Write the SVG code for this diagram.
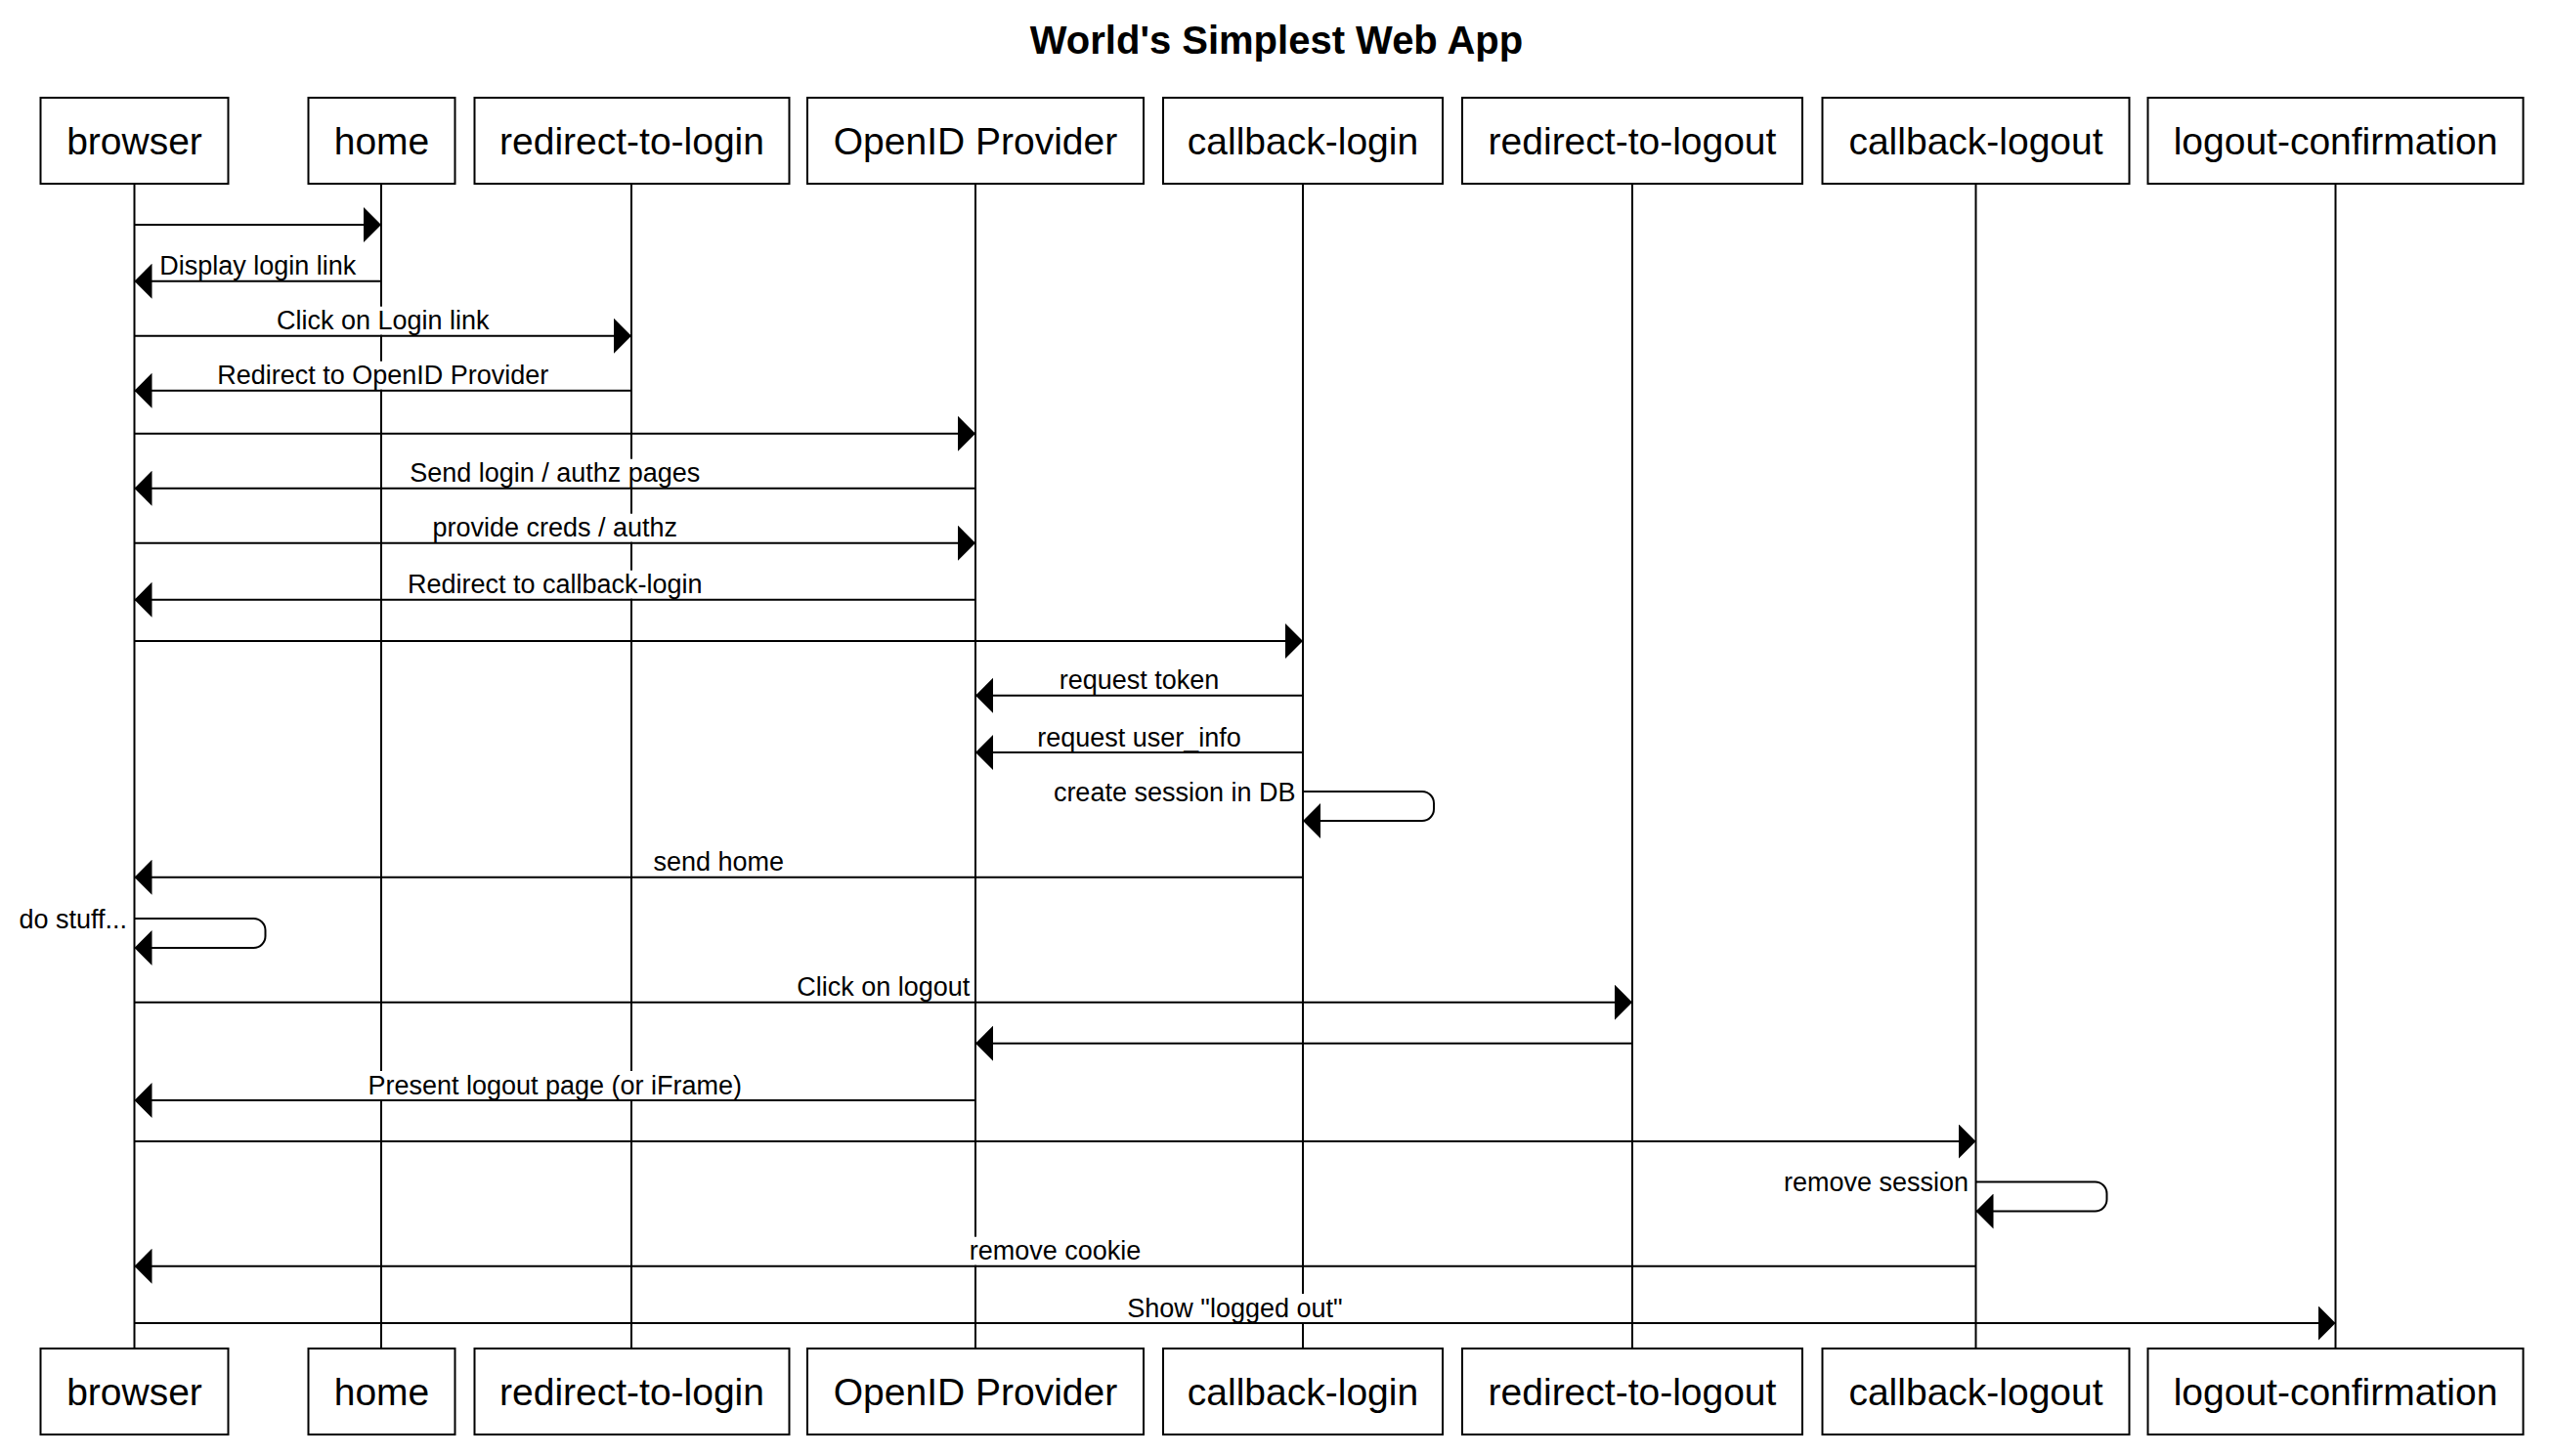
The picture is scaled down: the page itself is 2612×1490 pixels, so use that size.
<svg xmlns="http://www.w3.org/2000/svg" width="2612" height="1490" viewBox="0 0 2612 1490">
<style>
  text { font-family: "Liberation Sans", Arial, Helvetica, sans-serif; fill: #000; }
  .title { font-size: 40px; font-weight: bold; text-anchor: middle; }
  .pbox { fill: #fff; stroke: #000; stroke-width: 2; }
  .pname { font-size: 39px; text-anchor: middle; }
  .life { stroke: #000; stroke-width: 2; fill: none; }
  .msg { stroke: #000; stroke-width: 2; fill: none; marker-end: url(#arrow); }
  .bg { fill: #fff; stroke: none; }
  .lbl { font-size: 27px; text-anchor: middle; }
  .slbl { font-size: 27px; text-anchor: end; }
</style>
<defs>
  <marker id="arrow" markerUnits="userSpaceOnUse" viewBox="0 0 18 36" refX="18" refY="18" markerWidth="18" markerHeight="36" orient="auto">
    <path d="M0,0 L18,18 L0,36 Z" fill="#000"/>
  </marker>
</defs>
<rect width="2612" height="1490" fill="#fff"/>
<text class="title" x="1306" y="55">World's Simplest Web App</text>

<g id="browser">
  <line class="life" x1="137.5" y1="188" x2="137.5" y2="1380"/>
  <rect class="pbox" x="41.5" y="100" width="192" height="88"/>
  <text class="pname" x="137.5" y="157.5">browser</text>
  <rect class="pbox" x="41.5" y="1380" width="192" height="88"/>
  <text class="pname" x="137.5" y="1437.5">browser</text>
</g>
<g id="home">
  <line class="life" x1="390" y1="188" x2="390" y2="1380"/>
  <rect class="pbox" x="315.5" y="100" width="150" height="88"/>
  <text class="pname" x="390.5" y="157.5">home</text>
  <rect class="pbox" x="315.5" y="1380" width="150" height="88"/>
  <text class="pname" x="390.5" y="1437.5">home</text>
</g>
<g id="redirect-to-login">
  <line class="life" x1="646" y1="188" x2="646" y2="1380"/>
  <rect class="pbox" x="485.5" y="100" width="322" height="88"/>
  <text class="pname" x="646.5" y="157.5">redirect-to-login</text>
  <rect class="pbox" x="485.5" y="1380" width="322" height="88"/>
  <text class="pname" x="646.5" y="1437.5">redirect-to-login</text>
</g>
<g id="openid-provider">
  <line class="life" x1="998" y1="188" x2="998" y2="1380"/>
  <rect class="pbox" x="826" y="100" width="344" height="88"/>
  <text class="pname" x="998" y="157.5">OpenID Provider</text>
  <rect class="pbox" x="826" y="1380" width="344" height="88"/>
  <text class="pname" x="998" y="1437.5">OpenID Provider</text>
</g>
<g id="callback-login">
  <line class="life" x1="1333" y1="188" x2="1333" y2="1380"/>
  <rect class="pbox" x="1190" y="100" width="286" height="88"/>
  <text class="pname" x="1333" y="157.5">callback-login</text>
  <rect class="pbox" x="1190" y="1380" width="286" height="88"/>
  <text class="pname" x="1333" y="1437.5">callback-login</text>
</g>
<g id="redirect-to-logout">
  <line class="life" x1="1670" y1="188" x2="1670" y2="1380"/>
  <rect class="pbox" x="1496" y="100" width="348" height="88"/>
  <text class="pname" x="1670" y="157.5">redirect-to-logout</text>
  <rect class="pbox" x="1496" y="1380" width="348" height="88"/>
  <text class="pname" x="1670" y="1437.5">redirect-to-logout</text>
</g>
<g id="callback-logout">
  <line class="life" x1="2021.5" y1="188" x2="2021.5" y2="1380"/>
  <rect class="pbox" x="1864.5" y="100" width="314" height="88"/>
  <text class="pname" x="2021.5" y="157.5">callback-logout</text>
  <rect class="pbox" x="1864.5" y="1380" width="314" height="88"/>
  <text class="pname" x="2021.5" y="1437.5">callback-logout</text>
</g>
<g id="logout-confirmation">
  <line class="life" x1="2389.5" y1="188" x2="2389.5" y2="1380"/>
  <rect class="pbox" x="2197.5" y="100" width="384" height="88"/>
  <text class="pname" x="2389.5" y="157.5">logout-confirmation</text>
  <rect class="pbox" x="2197.5" y="1380" width="384" height="88"/>
  <text class="pname" x="2389.5" y="1437.5">logout-confirmation</text>
</g>

<g id="connectors">
  <path class="msg" d="M137.5,230 H390"/>

  <rect class="bg" x="160.25" y="257.7" width="207" height="29"/>
  <path class="msg" d="M390,287.7 H137.5"/>
  <text class="lbl" x="263.75" y="281.2">Display login link</text>

  <rect class="bg" x="279.75" y="313.7" width="224" height="29"/>
  <path class="msg" d="M137.5,343.7 H646"/>
  <text class="lbl" x="391.75" y="337.2">Click on Login link</text>

  <rect class="bg" x="219.25" y="369.7" width="345" height="29"/>
  <path class="msg" d="M646,399.7 H137.5"/>
  <text class="lbl" x="391.75" y="393.2">Redirect to OpenID Provider</text>

  <path class="msg" d="M137.5,443.7 H998"/>

  <rect class="bg" x="416.25" y="469.7" width="303" height="29"/>
  <path class="msg" d="M998,499.7 H137.5"/>
  <text class="lbl" x="567.75" y="493.2">Send login / authz pages</text>

  <rect class="bg" x="439.25" y="525.7" width="257" height="29"/>
  <path class="msg" d="M137.5,555.7 H998"/>
  <text class="lbl" x="567.75" y="549.2">provide creds / authz</text>

  <rect class="bg" x="413.75" y="583.7" width="308" height="29"/>
  <path class="msg" d="M998,613.7 H137.5"/>
  <text class="lbl" x="567.75" y="607.2">Redirect to callback-login</text>

  <path class="msg" d="M137.5,656 H1333"/>

  <rect class="bg" x="1080.5" y="681.7" width="170" height="29"/>
  <path class="msg" d="M1333,711.7 H998"/>
  <text class="lbl" x="1165.5" y="705.2">request token</text>

  <rect class="bg" x="1058" y="740" width="215" height="29"/>
  <path class="msg" d="M1333,770 H998"/>
  <text class="lbl" x="1165.5" y="763.5">request user_info</text>

  <path class="msg" d="M1333,810 H1455 A12,12 0 0 1 1467,822 V828 A12,12 0 0 1 1455,840 H1333"/>
  <text class="slbl" x="1325.5" y="819.5">create session in DB</text>

  <rect class="bg" x="665.25" y="867.7" width="140" height="29"/>
  <path class="msg" d="M1333,897.7 H137.5"/>
  <text class="lbl" x="735.25" y="891.2">send home</text>

  <path class="msg" d="M137.5,940 H259.5 A12,12 0 0 1 271.5,952 V958 A12,12 0 0 1 259.5,970 H137.5"/>
  <text class="slbl" x="130" y="949.5">do stuff...</text>

  <rect class="bg" x="812.25" y="995.7" width="183" height="29"/>
  <path class="msg" d="M137.5,1025.7 H1670"/>
  <text class="lbl" x="903.75" y="1019.2">Click on logout</text>

  <path class="msg" d="M1670,1067.7 H998"/>

  <rect class="bg" x="373.25" y="1096" width="389" height="29"/>
  <path class="msg" d="M998,1126 H137.5"/>
  <text class="lbl" x="567.75" y="1119.5">Present logout page (or iFrame)</text>

  <path class="msg" d="M137.5,1168 H2021.5"/>

  <path class="msg" d="M2021.5,1209.5 H2143.5 A12,12 0 0 1 2155.5,1221.5 V1227.5 A12,12 0 0 1 2143.5,1239.5 H2021.5"/>
  <text class="slbl" x="2014" y="1219">remove session</text>

  <rect class="bg" x="988.5" y="1265.7" width="182" height="29"/>
  <path class="msg" d="M2021.5,1295.7 H137.5"/>
  <text class="lbl" x="1079.5" y="1289.2">remove cookie</text>

  <rect class="bg" x="1150.5" y="1324" width="226" height="29"/>
  <path class="msg" d="M137.5,1354 H2389.5"/>
  <text class="lbl" x="1263.5" y="1347.5">Show "logged out"</text>
</g>
</svg>
